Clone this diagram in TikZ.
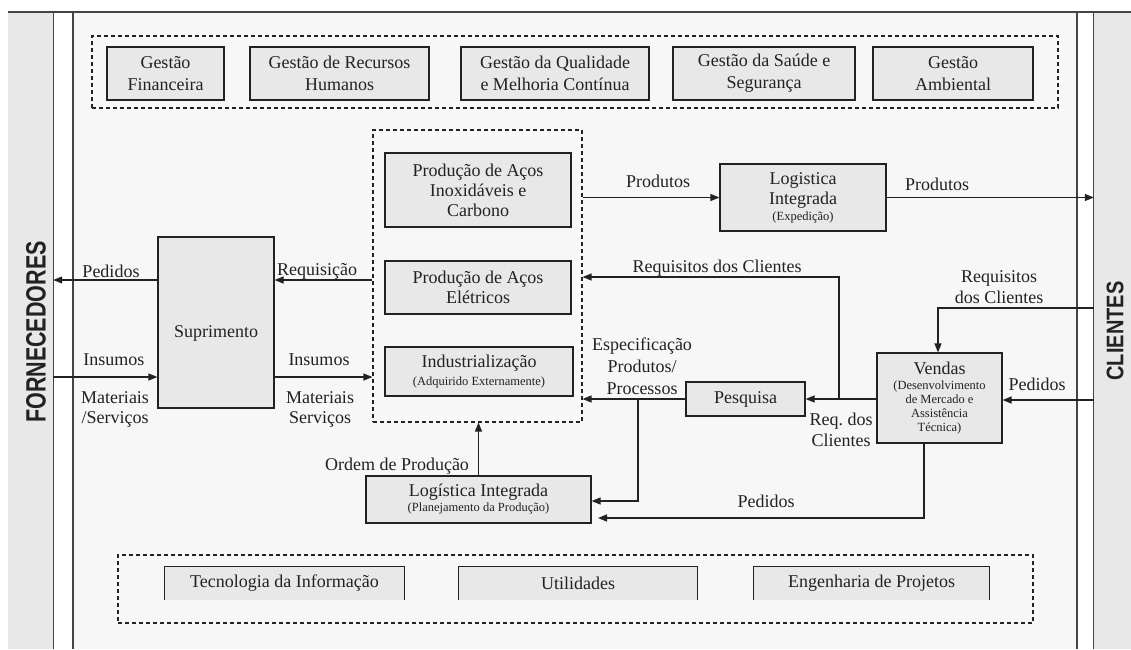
\documentclass[tikz,border=0pt]{standalone}
\usepackage{graphicx}
\usepackage{fontspec}
\setmainfont{Liberation Serif}
\newfontfamily\headfont{Liberation Sans}
\usetikzlibrary{arrows.meta,calc}
\definecolor{boxfill}{HTML}{E8E8E8}
\definecolor{panelfill}{HTML}{F7F7F7}
\definecolor{linec}{HTML}{222222}
\definecolor{framec}{HTML}{444444}
\newcommand\smallfnt{\fontsize{12.5}{14}\selectfont}
\begin{document}
\begin{tikzpicture}[x=1pt,y=-1pt,
  rect/.style={draw=linec, fill=boxfill, line width=1.2pt, inner sep=0pt, align=center, text=linec, font=\fontsize{18}{20}\selectfont},
  topbox/.style={rect, font=\fontsize{18}{22}\selectfont, minimum height=53pt},
  botbox/.style={fill=boxfill, inner sep=0pt, minimum height=33pt, text=linec, font=\fontsize{18}{20}\selectfont},
  boxline/.style={draw=linec, line width=1.2pt},
  dbox/.style={draw=linec, dash pattern=on 4pt off 3pt, line width=1.1pt, inner sep=0pt},
  lbl/.style={inner sep=0pt, align=center, text=linec, font=\fontsize{18}{20}\selectfont},
  conn/.style={draw=linec, line width=1.2pt},
  arr/.style={conn, -{Triangle[length=9pt,width=7pt]}},
  frame/.style={draw=framec, line width=1.2pt},
  col/.style={fill=boxfill, inner sep=0pt, minimum height=637pt},
  side/.style={text=linec, rotate=90, inner sep=0pt},
]
\useasboundingbox (0,0) rectangle (1131,649);
\fill[white] (0,0) rectangle (1131,649);
\fill[panelfill] (73,12) rectangle (1077,649);

% side columns
\node[col, minimum width=45pt] (forn) at (30.5,330.5) {};
\node[col, minimum width=37pt] (cli) at (1112.5,330.5) {};
\draw[frame] (8,12) -- (1131,12);
\draw[frame] (forn.north east) -- (forn.south east);
\draw[frame] (73,12) -- (73,649);
\draw[frame] (1077,12) -- (1077,649);
\draw[frame] (cli.north west) -- (cli.south west);
\node[side, font=\headfont\bfseries\fontsize{21.5}{22}\selectfont] (fornt) at (36,332) {\scalebox{1}[1.3]{FORNECEDORES}};
\node[side, font=\headfont\bfseries\fontsize{20}{20}\selectfont] (clit) at (1115,331) {\scalebox{1}[1.2]{CLIENTES}};

% top management group
\node[dbox, minimum width=966pt, minimum height=72pt] (gest) at (575,72) {};
\node[topbox, minimum width=117pt] (gf) at (165.5,73.5) {Gestão\\Financeira};
\node[topbox, minimum width=179pt] (grh) at (339.5,73.5) {Gestão de Recursos\\Humanos};
\node[topbox, minimum width=188pt] (gq) at (555,73.5) {Gestão da Qualidade\\e Melhoria Contínua};
\node[topbox, minimum width=182pt] (gs) at (764,73.5) {Gestão da Saúde e\\Segurança};
\node[topbox, minimum width=160pt] (ga) at (953,73.5) {Gestão\\Ambiental};

% production group
\node[dbox, minimum width=209pt, minimum height=292pt] (prod) at (477.5,276) {};
\node[rect, minimum width=186pt, minimum height=74pt] (p1) at (478,190) {Produção de Aços\\Inoxidáveis e\\Carbono};
\node[rect, minimum width=186pt, minimum height=53pt] (p2) at (478,287.5) {Produção de Aços\\Elétricos};
\node[rect, minimum width=188pt, minimum height=49pt] (p3) at (479,371.5) {Industrialização\\[-2pt]{\smallfnt (Adquirido Externamente)}};

% other boxes
\node[rect, minimum width=166pt, minimum height=67pt] (lgx) at (803,197.5) {Logistica\\Integrada\\[-4pt]{\smallfnt (Expedição)}};
\node[rect, minimum width=116pt, minimum height=171pt] (sup) at (216,322.5) {};
\node[lbl] (supt) at (216,333) {Suprimento};
\node[rect, minimum width=119pt, minimum height=34pt] (pes) at (745.5,399) {Pesquisa};
\node[rect, minimum width=125pt, minimum height=90pt] (ven) at (939.5,398) {Vendas\\[-5pt]{\smallfnt (Desenvolvimento}\\[-6pt]{\smallfnt de Mercado e}\\[-6pt]{\smallfnt Assistência}\\[-6pt]{\smallfnt Técnica)}};
\node[rect, minimum width=225pt, minimum height=47pt] (lgp) at (478.5,499.5) {Logística Integrada\\[-5pt]{\smallfnt (Planejamento da Produção)}};

% bottom support group
\node[dbox, minimum width=915pt, minimum height=68pt] (apoio) at (575.5,589) {};
\node[botbox, minimum width=239pt] (ti) at (284.5,583.5) {Tecnologia da Informação};
\node[botbox, minimum width=238pt] (ut) at (578,583.5) {Utilidades};
\node[botbox, minimum width=235pt] (ep) at (871.5,583.5) {Engenharia de Projetos};
\draw[boxline] (ti.south west) -- (ti.north west) -- (ti.north east) -- (ti.south east);
\draw[boxline] (ut.south west) -- (ut.north west) -- (ut.north east) -- (ut.south east);
\draw[boxline] (ep.south west) -- (ep.north west) -- (ep.north east) -- (ep.south east);

% connectors
\coordinate (yped) at (0,280);
\coordinate (yins) at (0,377);
\draw[arr] (sup.west |- yped) -- (forn.east |- yped);
\draw[arr] (prod.west |- yped) -- (sup.east |- yped);
\draw[arr] (forn.east |- yins) -- (sup.west |- yins);
\draw[arr] (sup.east |- yins) -- (prod.west |- yins);
\draw[arr] (prod.east |- lgx.west) -- (lgx.west);
\draw[arr] (lgx.east) -- (lgx.east -| cli.west);
\coordinate (jn) at (839,399);
\coordinate (jt) at (839,277);
\draw[arr] (ven.west |- pes.east) -- (pes.east);
\draw[arr] (jn) -- (jt) -- (prod.east |- jt);
\draw[arr] (pes.west) -- (prod.east |- pes.west);
\coordinate (jb) at (638,399);
\coordinate (yl1) at (0,501);
\draw[arr] (jb) -- (jb |- yl1) -- (lgp.east |- yl1);
\coordinate (vc) at (924,518);
\coordinate (pt) at (598,518);
\draw[arr] (ven.south -| vc) -- (vc) -- (pt);
\draw[arr] (lgp.north) -- (lgp.north |- prod.south);
\coordinate (rq) at (938,308);
\draw[arr] (cli.west |- rq) -- (rq) -- (rq |- ven.north);
\coordinate (yp) at (0,400);
\draw[arr] (cli.west |- yp) -- (ven.east |- yp);

% labels
\node[lbl, anchor=base] (lprod1) at (658,187) {Produtos};
\node[lbl, anchor=base] (lprod2) at (937,190) {Produtos};
\node[lbl, anchor=base] (lped1) at (111,277) {Pedidos};
\node[lbl, anchor=base] (lreq) at (317,275) {Requisição};
\node[lbl, anchor=base] (lins1) at (114,365) {Insumos};
\node[lbl] (lmat1) at (115,409) {Materiais\\/Serviços};
\node[lbl, anchor=base] (lins2) at (319,365) {Insumos};
\node[lbl] (lmat2) at (320,409) {Materiais\\Serviços};
\node[lbl, anchor=base] (lrc) at (717,272) {Requisitos dos Clientes};
\node[lbl, font=\fontsize{18}{22}\selectfont] (lesp) at (642,366) {Especificação\\Produtos/\\Processos};
\node[lbl, font=\fontsize{18}{21}\selectfont] (lrq) at (841,430) {Req.\ dos\\Clientes};
\node[lbl, font=\fontsize{18}{21}\selectfont] (lrc2) at (999,287) {Requisitos\\dos Clientes};
\node[lbl, anchor=base] (lped2) at (1037,390) {Pedidos};
\node[lbl, anchor=base] (lord) at (397,470) {Ordem de Produção};
\node[lbl, anchor=base] (lped3) at (766,507) {Pedidos};
\end{tikzpicture}
\end{document}
